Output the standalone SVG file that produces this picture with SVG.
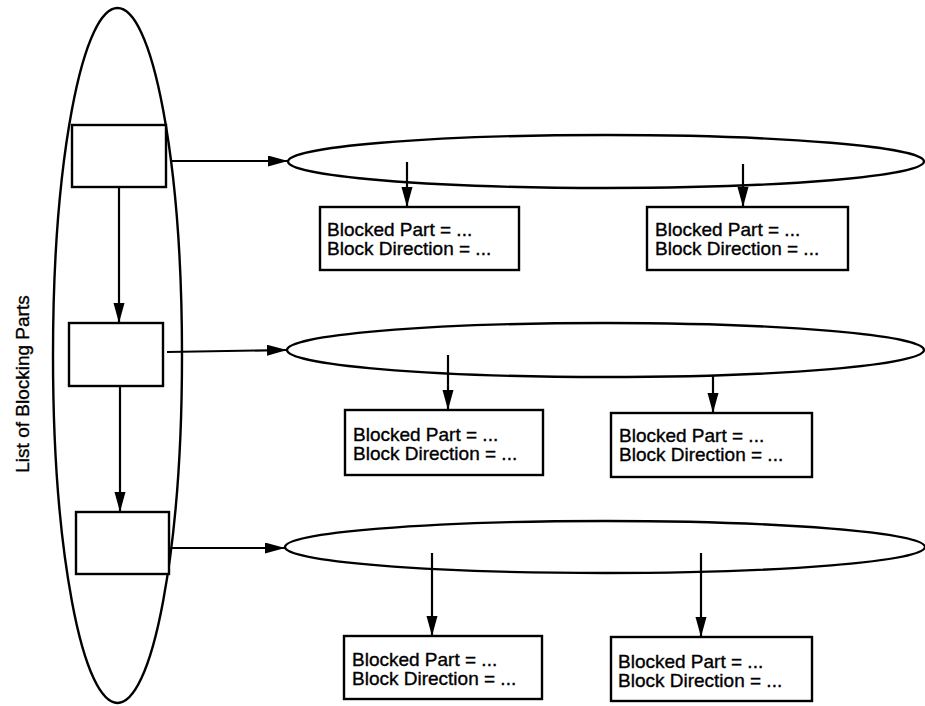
<svg xmlns="http://www.w3.org/2000/svg" width="925" height="706" viewBox="0 0 925 706">
<style>
.sh{fill:none;stroke:#000;stroke-width:2.4}
.bx{fill:#fff;stroke:#000;stroke-width:2.4}
.ln{fill:none;stroke:#000;stroke-width:2.2}
.t{font-family:"Liberation Sans",Arial,sans-serif;font-size:19px;fill:#000;stroke:#000;stroke-width:0.35}
</style>
<defs>
<marker id="ah" markerUnits="userSpaceOnUse" markerWidth="22" markerHeight="12" refX="20" refY="5.5" orient="auto">
<path d="M0,0 L20,5.5 L0,11 z" fill="#000"/>
</marker>
</defs>
<rect width="925" height="706" fill="#fff"/>
<g id="list">
<ellipse class="sh" cx="117.5" cy="355.5" rx="64.5" ry="347.5"/>
<text class="t" transform="translate(29,384) rotate(-90)" text-anchor="middle">List of Blocking Parts</text>
</g>
<g id="part1"><rect class="bx" x="72" y="125" width="94" height="62"/></g>
<g id="part2"><rect class="bx" x="69" y="323" width="94" height="63"/></g>
<g id="part3"><rect class="bx" x="76" y="512" width="93" height="62"/></g>
<g id="list1"><ellipse class="sh" cx="606" cy="161.5" rx="318" ry="26.5"/></g>
<g id="list2"><ellipse class="sh" cx="605.5" cy="350" rx="318.5" ry="27"/></g>
<g id="list3"><ellipse class="sh" cx="605" cy="547" rx="320" ry="26"/></g>
<g id="a1">
<rect class="bx" x="320" y="207" width="199" height="63"/>
<text class="t" x="327" y="236">Blocked Part = ...</text>
<text class="t" x="327" y="255">Block Direction = ...</text>
</g>
<g id="b1">
<rect class="bx" x="647" y="207" width="201" height="63"/>
<text class="t" x="655" y="236">Blocked Part = ...</text>
<text class="t" x="655" y="255">Block Direction = ...</text>
</g>
<g id="a2">
<rect class="bx" x="345" y="410" width="198" height="65"/>
<text class="t" x="353" y="441">Blocked Part = ...</text>
<text class="t" x="353" y="460">Block Direction = ...</text>
</g>
<g id="b2">
<rect class="bx" x="611" y="413" width="201" height="64"/>
<text class="t" x="619" y="442">Blocked Part = ...</text>
<text class="t" x="619" y="461">Block Direction = ...</text>
</g>
<g id="a3">
<rect class="bx" x="344" y="636" width="198" height="63"/>
<text class="t" x="352" y="666">Blocked Part = ...</text>
<text class="t" x="352" y="685">Block Direction = ...</text>
</g>
<g id="b3">
<rect class="bx" x="611" y="637" width="201" height="64"/>
<text class="t" x="618" y="668">Blocked Part = ...</text>
<text class="t" x="618" y="687">Block Direction = ...</text>
</g>
<g id="connectors">
<line class="ln" x1="119" y1="187" x2="119" y2="323" marker-end="url(#ah)"/>
<line class="ln" x1="120" y1="386" x2="120" y2="512" marker-end="url(#ah)"/>
<line class="ln" x1="170" y1="161" x2="288" y2="161" marker-end="url(#ah)"/>
<line class="ln" x1="167" y1="352" x2="287" y2="350" marker-end="url(#ah)"/>
<line class="ln" x1="172" y1="548" x2="285" y2="548" marker-end="url(#ah)"/>
<line class="ln" x1="407" y1="162" x2="407" y2="207" marker-end="url(#ah)"/>
<line class="ln" x1="743" y1="164" x2="743" y2="207" marker-end="url(#ah)"/>
<line class="ln" x1="448" y1="355" x2="448" y2="410" marker-end="url(#ah)"/>
<line class="ln" x1="713" y1="376" x2="713" y2="413" marker-end="url(#ah)"/>
<line class="ln" x1="432" y1="553" x2="432" y2="636" marker-end="url(#ah)"/>
<line class="ln" x1="701" y1="553" x2="701" y2="637" marker-end="url(#ah)"/>
</g>
</svg>
